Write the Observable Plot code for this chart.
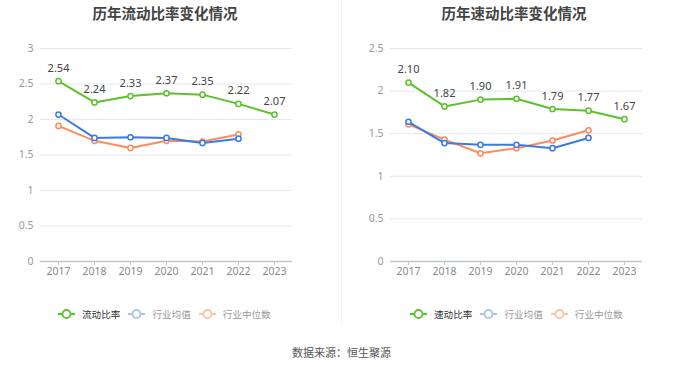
<!DOCTYPE html>
<html>
<head>
<meta charset="utf-8">
<script src="https://cdn.jsdelivr.net/npm/d3@7"></script>
<script src="https://cdn.jsdelivr.net/npm/@observablehq/plot@0.6"></script>
<style>
  html, body { margin: 0; padding: 0; background: #fff; }
  #root { position: relative; width: 680px; height: 367px; background: #fff; overflow: hidden;
          font-family: "Noto Sans", "Noto Sans CJK SC", sans-serif; }
  .title { position: absolute; top: 2px; text-align: center; font-size: 14.5px; font-weight: bold; color: #444;
           font-family: "Noto Sans CJK SC", sans-serif; line-height: 22px; }
  .chart { position: absolute; top: 30px; }
  .legend { position: absolute; top: 306px; height: 16px; display: flex; align-items: center;
            font-family: "Noto Sans CJK SC", sans-serif; font-size: 9.6px; }
  .legend .item { display: flex; align-items: center; margin-right: 8px; }
  .legend svg { margin-right: 7px; }
  .source { position: absolute; top: 344px; left: 0; width: 683px; text-align: center; font-size: 11px; color: #555;
            font-family: "Noto Sans CJK SC", sans-serif; }
  .divider { position: absolute; left: 341px; top: 0; width: 1px; height: 326px; background: #f2f2f2; }
</style>
</head>
<body>
<div id="root">
  <div class="divider"></div>
  <div class="title" id="t1" style="left:0;width:330px;"></div>
  <div class="title" id="t2" style="left:344px;width:340px;"></div>
  <div class="chart" id="c1" style="left:0;"></div>
  <div class="chart" id="c2" style="left:340px;"></div>
  <div class="legend" id="l1" style="left:58px;"></div>
  <div class="legend" id="l2" style="left:410px;"></div>
  <div class="source" id="src"></div>
</div>
<script>
const years = ["2017", "2018", "2019", "2020", "2021", "2022", "2023"];
const meanYears = ["2017", "2018", "2019", "2020", "2021", "2022"];

const currentRatio = [2.54, 2.24, 2.33, 2.37, 2.35, 2.22, 2.07];
const currentMean = [2.07, 1.74, 1.75, 1.74, 1.67, 1.73];
const currentMedian = [1.91, 1.70, 1.60, 1.70, 1.69, 1.79];

const quickRatio = [2.10, 1.82, 1.90, 1.91, 1.79, 1.77, 1.67];
const quickMean = [1.64, 1.39, 1.37, 1.37, 1.33, 1.45];
const quickMedian = [1.61, 1.43, 1.27, 1.33, 1.42, 1.54];

const leftTicks = [0, 0.5, 1, 1.5, 2, 2.5, 3];
const rightTicks = [0, 0.5, 1, 1.5, 2, 2.5];

const titles = ["历年流动比率变化情况", "历年速动比率变化情况"];
const seriesNamesLeft = ["流动比率", "行业均值", "行业中位数"];
const seriesNamesRight = ["速动比率", "行业均值", "行业中位数"];
const sourceText = "数据来源：恒生聚源";

const GREEN = "#5bc22c", BLUE = "#3b7be6", ORANGE = "#fc8b5e";
const FONT = "'Noto Sans', 'Noto Sans CJK SC', sans-serif";

function toRows(xs, vs) { return vs.map((v, i) => ({year: xs[i], value: v})); }

function makeChart(main, mean, median, yMax, ticks, mLeft, mRight) {
  const mainRows = toRows(years, main);
  const meanRows = toRows(meanYears, mean);
  const medianRows = toRows(meanYears, median);
  const series = [
    {rows: medianRows, color: ORANGE},
    {rows: meanRows, color: BLUE},
    {rows: mainRows, color: GREEN}
  ];
  const marks = [
    Plot.gridY(ticks.filter(t => t > 0), {stroke: "#e4e8f3", strokeOpacity: 1, strokeWidth: 1}),
    Plot.ruleY([0], {stroke: "#c3c6cc", strokeWidth: 1.5}),
    Plot.axisX({tickSize: 4, tickPadding: 2, stroke: "#c3c6cc", fill: "#8a8a8a", fontSize: 10.5}),
    Plot.axisY(ticks, {tickSize: 0, tickPadding: 7, fill: "#999", fontSize: 10.5, tickFormat: d => String(d)})
  ];
  for (const s of series) {
    marks.push(Plot.line(s.rows, {x: "year", y: "value", stroke: s.color, strokeWidth: 2}));
    marks.push(Plot.dot(s.rows, {x: "year", y: "value", r: 2.6, stroke: s.color, strokeWidth: 1.5, fill: "#fff"}));
  }
  marks.push(Plot.text(mainRows, {x: "year", y: "value", text: d => d.value.toFixed(2), dy: -13,
    fill: "#444", fontSize: 11}));
  return Plot.plot({
    width: 340, height: 256,
    marginTop: 18, marginBottom: 25, marginLeft: mLeft, marginRight: mRight,
    style: {fontFamily: FONT, background: "transparent", overflow: "visible"},
    x: {type: "point", domain: years, padding: 0.5, label: null},
    y: {domain: [0, yMax], label: null},
    marks
  });
}

document.getElementById("c1").appendChild(makeChart(currentRatio, currentMean, currentMedian, 3, leftTicks, 40, 48));
document.getElementById("c2").appendChild(makeChart(quickRatio, quickMean, quickMedian, 2.5, rightTicks, 50, 38));
document.getElementById("t1").textContent = titles[0];
document.getElementById("t2").textContent = titles[1];
document.getElementById("src").textContent = sourceText;

function legend(el, names) {
  const styles = [
    {color: GREEN, text: "#333"},
    {color: "#a9c4f4", text: "#999"},
    {color: "#fbc0a8", text: "#999"}
  ];
  names.forEach((n, i) => {
    const item = document.createElement("div");
    item.className = "item";
    const c = styles[i].color;
    item.innerHTML = `<svg width="17" height="12"><line x1="0" x2="17" y1="6" y2="6" stroke="${c}" stroke-width="2"/><circle cx="8.5" cy="6" r="4" fill="#fff" stroke="${c}" stroke-width="1.8"/></svg><span style="color:${styles[i].text}">${n}</span>`;
    el.appendChild(item);
  });
}
legend(document.getElementById("l1"), seriesNamesLeft);
legend(document.getElementById("l2"), seriesNamesRight);
</script>
</body>
</html>
